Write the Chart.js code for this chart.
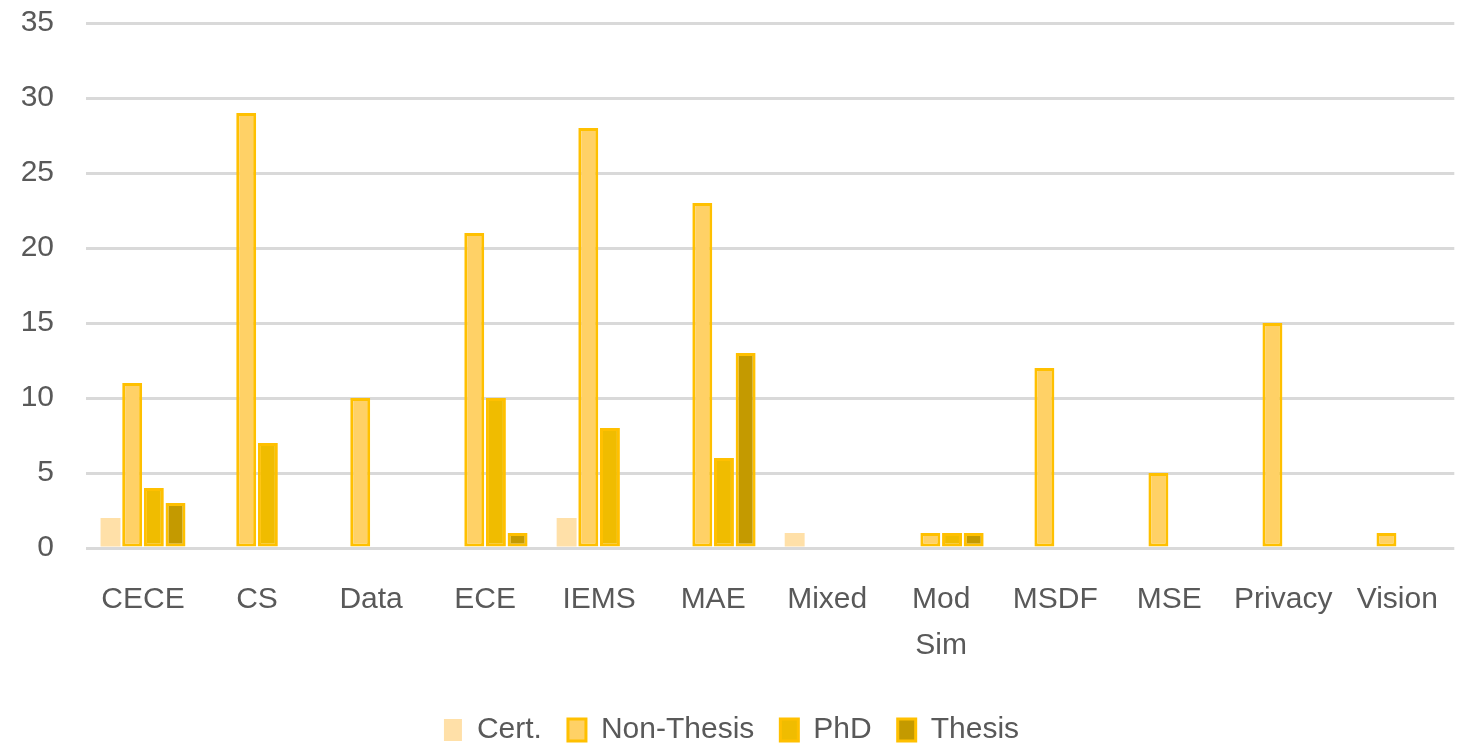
<!DOCTYPE html>
<html>
<head>
<meta charset="utf-8">
<script src="https://cdn.jsdelivr.net/npm/chart.js@4/dist/chart.umd.min.js"></script>
<style>
  html, body { margin: 0; padding: 0; background: #fff; }
  #wrap { width: 1458px; height: 747px; }
</style>
</head>
<body>
<div id="wrap"><canvas id="chart" width="1458" height="747"></canvas></div>
<script>
/* data */
const categories = ["CECE", "CS", "Data", "ECE", "IEMS", "MAE", "Mixed", ["Mod", "Sim"], "MSDF", "MSE", "Privacy", "Vision"];
const cert      = [2, null, null, null, 2, null, 1, null, null, null, null, null];
const nonThesis = [11, 29, 10, 21, 28, 23, null, 1, 12, 5, 15, 1];
const phd       = [4, 7, null, 10, 8, 6, null, 1, null, null, null, null];
const thesis    = [3, null, null, 1, null, 13, null, 1, null, null, null, null];
const yTicks    = [0, 5, 10, 15, 20, 25, 30, 35];

const FONT = "'Liberation Sans', Arial, sans-serif";
const BORDER = "#FFC000";

function ds(label, data, fill, bw) {
  return {
    label: label,
    data: data,
    backgroundColor: fill,
    borderColor: bw ? BORDER : fill,
    borderWidth: bw,
    borderSkipped: false,
    categoryPercentage: 0.76,
    barPercentage: 0.92
  };
}

new Chart(document.getElementById("chart"), {
  type: "bar",
  data: {
    labels: categories,
    datasets: [
      ds("Cert.", cert, "#FFE0A8", 0),
      ds("Non-Thesis", nonThesis, "#FFD166", 3),
      ds("PhD", phd, "#F0BC00", 3),
      ds("Thesis", thesis, "#C49A00", 3)
    ]
  },
  options: {
    responsive: false,
    animation: false,
    layout: { padding: { top: 23, right: 3, left: 8, bottom: -8 } },
    plugins: {
      tooltip: { enabled: false },
      legend: {
        position: "bottom",
        labels: {
          color: "#595959",
          font: { family: FONT, size: 30 },
          boxWidth: 18,
          boxHeight: 22,
          padding: 26
        }
      }
    },
    scales: {
      x: {
        grid: { display: false },
        border: { display: false },
        ticks: {
          color: "#595959",
          font: { family: FONT, size: 30, lineHeight: 1.55 },
          maxRotation: 0,
          autoSkip: false,
          padding: 20
        }
      },
      y: {
        min: 0,
        max: 35,
        afterBuildTicks: axis => { axis.ticks = yTicks.map(v => ({ value: v })); },
        afterFit: axis => { axis.width = 78; axis.paddingTop = 0; },
        grid: { color: "#D9D9D9", lineWidth: 3, drawTicks: false },
        border: { display: false },
        ticks: {
          color: "#595959",
          font: { family: FONT, size: 30 },
          padding: 32
        }
      }
    }
  }
});
</script>
</body>
</html>
